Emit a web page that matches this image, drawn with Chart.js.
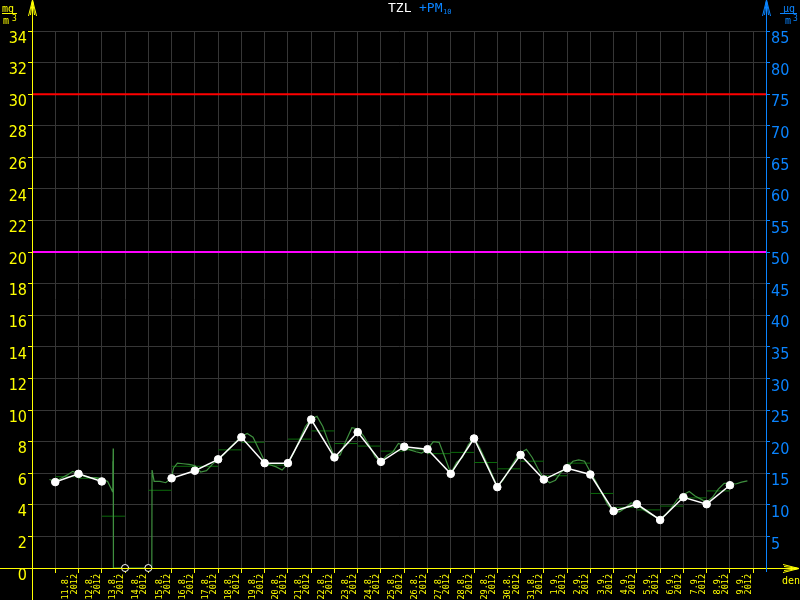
<!DOCTYPE html>
<html><head><meta charset="utf-8">
<script src="https://cdn.jsdelivr.net/npm/chart.js@4"></script>
<style>html,body{margin:0;padding:0;background:#000;}canvas{display:block;}</style>
</head><body>
<canvas id="c" width="800" height="600"></canvas>
<script>
// ---- data ----
const dayLabels = [
  ['11.8.','2012'],['12.8.','2012'],['13.8.','2012'],['14.8.','2012'],['15.8.','2012'],
  ['16.8.','2012'],['17.8.','2012'],['18.8.','2012'],['19.8.','2012'],['20.8.','2012'],
  ['21.8.','2012'],['22.8.','2012'],['23.8.','2012'],['24.8.','2012'],['25.8.','2012'],
  ['26.8.','2012'],['27.8.','2012'],['28.8.','2012'],['29.8.','2012'],['30.8.','2012'],
  ['31.8.','2012'],['1.9.','2012'],['2.9.','2012'],['3.9.','2012'],['4.9.','2012'],
  ['5.9.','2012'],['6.9.','2012'],['7.9.','2012'],['8.9.','2012'],['9.9.','2012'],''
];
const leftTickValues = [0,2,4,6,8,10,12,14,16,18,20,22,24,26,28,30,32,34];
const rightTickValues = [5,10,15,20,25,30,35,40,45,50,55,60,65,70,75,80,85];

// daily values (µg/m3), one per day, null = missing
const dailyValues = [13.6,14.9,13.7,null,null,14.2,15.4,17.2,20.7,16.6,16.6,23.5,17.5,21.5,16.8,
  19.2,18.8,14.9,20.5,12.8,17.9,14.0,15.8,14.8,9.0,10.1,7.6,11.2,10.1,13.1];
const missingDays = [3,4];
// daily means drawn as horizontal segments over [day, day+1]
const dayMeans = [14.45,14.2,8.2,null,12.3,16.1,16.1,18.7,19.9,16.3,20.4,21.7,19.7,19.3,18.5,
  18.7,18.1,18.3,16.7,15.7,16.9,14.6,16.6,11.8,9.6,9.2,9.8,11.1,12.2,null];
// running values: [day offset, value]
const runningValues = [[-0.25,14.0],[0,13.7],[0.25,14.2],[0.5,14.7],[0.75,15.3],[1,14.9],[1.25,14.5],
  [1.5,14.3],[1.75,14.3],[2,14.1],[2.25,13.7],[2.4,12.6],[2.46,12.1],[2.47,16.9],[2.48,12.5],
  [2.49,18.9],[2.5,0],[4.15,0],[4.16,15.5],[4.25,13.7],[4.5,13.7],[4.75,13.5],[5,14.3],[5.08,15.8],
  [5.25,16.6],[5.5,16.5],[5.75,16.4],[6,16.2],[6.25,15.2],[6.5,15.4],[6.75,16.4],[7,17.2],
  [7.25,18.0],[7.5,19.0],[7.75,19.9],[8,20.8],[8.25,21.3],[8.5,20.7],[8.75,18.8],[9,16.9],
  [9.25,16.3],[9.5,16.0],[9.75,15.5],[10,16.5],[10.25,18.2],[10.5,20.3],[10.75,22.4],[11,23.6],
  [11.25,24.0],[11.5,22.4],[11.75,19.9],[12,17.6],[12.25,17.9],[12.5,20.2],[12.75,22.2],[13,22.0],
  [13.25,20.9],[13.5,19.4],[13.75,17.6],[14,16.8],[14.25,17.8],[14.5,18.3],[14.75,19.7],[15,19.4],
  [15.25,18.7],[15.5,18.4],[15.75,18.2],[16,18.8],[16.25,20.0],[16.5,19.9],[16.75,17.5],[17,15.0],
  [17.25,16.7],[17.5,17.5],[17.75,19.5],[18,20.6],[18.25,19.0],[18.5,17.0],[18.75,15.0],[19,12.9],
  [19.25,13.9],[19.5,15.5],[19.75,17.0],[20,18.2],[20.25,18.8],[20.5,17.5],[20.75,15.7],[21,14.2],
  [21.25,13.5],[21.5,13.9],[21.75,15.2],[22,15.9],[22.25,16.9],[22.5,17.1],[22.75,16.9],[23,15.2],
  [23.25,13.6],[23.5,11.8],[23.75,10.0],[24,9.0],[24.25,8.9],[24.5,9.5],[24.75,10.3],[25,10.1],
  [25.25,9.3],[25.5,8.7],[25.75,8.2],[26,7.8],[26.25,8.5],[26.5,9.6],[26.75,10.9],[27,11.6],
  [27.25,12.1],[27.5,11.4],[27.75,10.9],[28,10.4],[28.25,11.2],[28.5,12.5],[28.75,13.4],[29,13.4],
  [29.25,13.3],[29.5,13.6],[29.75,13.8]];
// limit lines (mg/m3 axis)
const limitValues = [30, 20];
const limitColors = ['#ff0000', '#ff00ff'];

// ---- styling ----
const YELLOW = '#ffff00', BLUE = '#0a84ff', GRID = '#363636';
const X_MIN = -1, X_MAX = 30.55;
const NARROW = "'Liberation Sans Narrow', 'DejaVu Sans Condensed', sans-serif";
const MONO = "'DejaVu Sans Mono', monospace";

const segData = [];
dayMeans.forEach((v, i) => {
  if (v === null) return;
  segData.push({x: i, y: v}, {x: i + 1, y: v}, {x: i + 1, y: null});
});

const datasets = [
  { label: 'daily', yAxisID: 'y2', order: 0,
    data: dailyValues.map((v, i) => ({x: i, y: v})),
    borderColor: '#ffffff', borderWidth: 1.5, pointRadius: 3.8, pointBorderWidth: 1,
    pointBackgroundColor: '#ffffff', pointBorderColor: '#ffffff', spanGaps: false },
  { label: 'missing', yAxisID: 'y2', order: 1, clip: false, showLine: false,
    data: missingDays.map(d => ({x: d, y: 0})),
    pointRadius: 3.5, pointBorderWidth: 1, pointBorderColor: '#ffffff', pointBackgroundColor: '#000000' },
  { label: 'running', yAxisID: 'y2', order: 2,
    data: runningValues.map(p => ({x: p[0], y: p[1]})),
    borderColor: '#3f8f3f', borderWidth: 1.2, pointRadius: 0 },
  { label: 'means', yAxisID: 'y2', order: 3, data: segData,
    borderColor: '#0b6a0b', borderWidth: 1, pointRadius: 0, spanGaps: false },
];
limitValues.forEach((v, i) => datasets.push({
  label: 'limit' + i, yAxisID: 'y', order: 4,
  data: [{x: X_MIN, y: v}, {x: X_MAX, y: v}],
  borderColor: limitColors[i], borderWidth: 2, pointRadius: 0 }));

function upArrow(c, x, color) {
  c.strokeStyle = color; c.fillStyle = color; c.lineWidth = 1;
  [[-4,16],[-2,15],[2,15],[4,16]].forEach(([dx, dy]) => {
    c.beginPath(); c.moveTo(x, 0); c.lineTo(x + dx, dy); c.stroke();
  });
  c.beginPath(); c.moveTo(x, 0); c.lineTo(x - 1.5, 5); c.lineTo(x + 1.5, 5); c.closePath(); c.fill();
}

const deco = {
  id: 'deco',
  afterDraw(chart) {
    const c = chart.ctx;
    c.save();
    c.lineWidth = 1;
    c.strokeStyle = YELLOW;
    c.beginPath(); c.moveTo(32.5, 0); c.lineTo(32.5, 600); c.stroke();
    c.beginPath(); c.moveTo(0, 568.5); c.lineTo(799, 568.5); c.stroke();
    c.strokeStyle = BLUE;
    c.beginPath(); c.moveTo(766.5, 0); c.lineTo(766.5, 572); c.stroke();
    upArrow(c, 32.5, YELLOW);
    upArrow(c, 766.5, BLUE);
    c.strokeStyle = YELLOW; c.fillStyle = YELLOW;
    [[-16,-4],[-15,-2],[-15,2],[-16,4]].forEach(([dx, dy]) => {
      c.beginPath(); c.moveTo(799, 568.5); c.lineTo(799 + dx, 568.5 + dy); c.stroke();
    });
    c.beginPath(); c.moveTo(799, 568.5); c.lineTo(794, 567); c.lineTo(794, 570); c.closePath(); c.fill();

    // title
    c.textBaseline = 'alphabetic'; c.textAlign = 'left';
    c.font = '13px ' + MONO;
    c.fillStyle = '#ffffff'; c.fillText('TZL', 388, 12);
    c.fillStyle = BLUE; c.fillText('+PM', 419, 12);
    c.font = '7px ' + MONO; c.fillText('10', 443, 14);

    // units left
    c.fillStyle = YELLOW; c.strokeStyle = YELLOW;
    c.font = '10px ' + MONO;
    c.fillText('mg', 2, 12);
    c.beginPath(); c.moveTo(2, 13.5); c.lineTo(17, 13.5); c.stroke();
    c.fillText('m', 3, 23.5);
    c.font = '8px ' + MONO; c.fillText('3', 12, 20.5);
    // units right
    c.fillStyle = BLUE; c.strokeStyle = BLUE;
    c.font = '10px ' + MONO;
    c.fillText('\u00b5g', 783, 12);
    c.beginPath(); c.moveTo(780, 13.5); c.lineTo(797, 13.5); c.stroke();
    c.fillText('m', 785, 23.5);
    c.font = '8px ' + MONO; c.fillText('3', 793, 20.5);
    // den
    c.fillStyle = YELLOW; c.font = '10px ' + MONO;
    c.fillText('den', 782, 584);
    c.restore();
  }
};

new Chart(document.getElementById('c'), {
  type: 'line',
  data: { datasets },
  plugins: [deco],
  options: {
    responsive: false, animation: false, devicePixelRatio: 1,
    layout: { padding: { top: 31, left: 0, right: 0, bottom: 0 } },
    plugins: { legend: { display: false }, tooltip: { enabled: false }, title: { display: false } },
    scales: {
      x: {
        type: 'linear', position: 'bottom', min: X_MIN, max: X_MAX,
        afterBuildTicks: s => { s.ticks = dayLabels.map((l, i) => ({ value: i })); },
        afterFit: s => { s.height = 32; },
        grid: { color: GRID, tickColor: YELLOW, tickLength: 5, lineWidth: 1 },
        border: { color: YELLOW },
        ticks: {
          color: YELLOW, autoSkip: false, maxRotation: 90, minRotation: 90,
          labelOffset: 11, padding: 1,
          font: { family: MONO, size: 8.5, lineHeight: 0.95 },
          callback: (v, i) => dayLabels[i]
        }
      },
      y: {
        position: 'left', min: 0, max: 34,
        afterBuildTicks: s => { s.ticks = leftTickValues.map(v => ({ value: v })); },
        afterFit: s => { s.width = 32; },
        grid: { color: GRID, tickColor: YELLOW, tickLength: 4 },
        border: { color: YELLOW },
        ticks: { color: YELLOW, padding: 1, labelOffset: 7.5, font: { family: NARROW, size: 16 } }
      },
      y2: {
        position: 'right', min: 0, max: 85,
        afterBuildTicks: s => { s.ticks = rightTickValues.map(v => ({ value: v })); },
        afterFit: s => { s.width = 34; },
        grid: { drawOnChartArea: false, tickColor: BLUE, tickLength: 4 },
        border: { color: BLUE },
        ticks: { color: BLUE, padding: 1, labelOffset: 8, font: { family: NARROW, size: 16 } }
      }
    }
  }
});
</script>
</body></html>
